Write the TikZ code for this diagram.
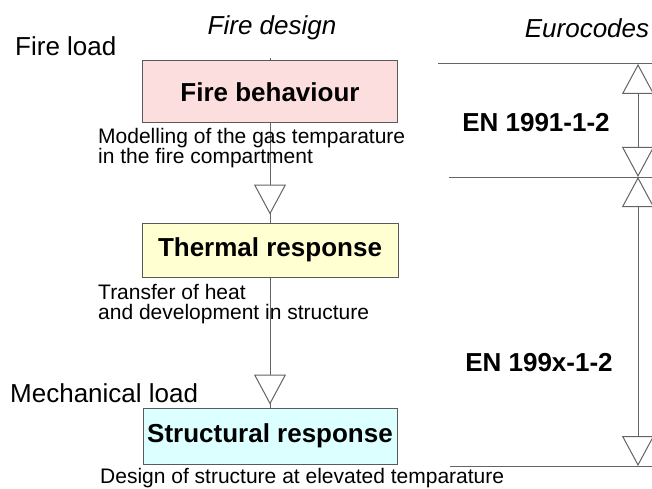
\documentclass[tikz,border=0pt]{standalone}
\usepackage{fontspec}
\setmainfont{Liberation Sans}
\usetikzlibrary{arrows.meta}
\definecolor{pinkfill}{RGB}{252,222,222}
\definecolor{yellowfill}{RGB}{255,255,210}
\definecolor{cyanfill}{RGB}{220,255,255}
\definecolor{linegray}{RGB}{100,100,100}
\definecolor{boxgray}{RGB}{90,90,90}
\tikzset{
  big/.style={font=\fontsize{26}{28}\selectfont},
  bigbold/.style={font=\fontsize{26}{28}\selectfont\bfseries},
  bigit/.style={font=\fontsize{26}{28}\selectfont\itshape},
  small/.style={font=\fontsize{21}{20}\selectfont, align=left, inner sep=0pt},
  box/.style={draw=boxgray, line width=1pt, inner sep=0pt, bigbold},
  conn/.style={draw=linegray, line width=1pt},
  tri/.tip={Triangle[length=30pt, width=32pt, fill=white]},
}
\begin{document}
\begin{tikzpicture}[x=1pt, y=-1pt]
\clip (0,0) rectangle (652,489);
\fill[white] (0,0) rectangle (652,489);
% coordinates
\coordinate (top) at (270,58);
\coordinate (h1l) at (438,64);
\coordinate (h1r) at (652,64);
\coordinate (h2l) at (449,177);
\coordinate (h2r) at (652,177);
\coordinate (h3l) at (450,466);
\coordinate (h3r) at (652,466);
\coordinate (v1) at (638,64);
\coordinate (v2) at (638,177);
\coordinate (v3) at (638,466);
% boxes (placed first for anchors, redrawn on top)
\path (270,92) node[box, fill=pinkfill, minimum width=255pt, minimum height=62pt] (b1) {};
\path (270,250) node[box, fill=yellowfill, minimum width=256pt, minimum height=54pt] (b2) {};
\path (270,436) node[box, fill=cyanfill, minimum width=254pt, minimum height=56pt] (b3) {};
% connectors
\draw[conn] (top) -- (b1.north);
\draw[conn] (b1.south) -- (b2.north);
\draw[conn, -tri, shorten >=8pt] (b1.south) -- (b2.north);
\draw[conn] (b2.south) -- (b3.north);
\draw[conn, -tri, shorten >=3pt] (b2.south) -- (b3.north);
% boxes on top
\node[box, fill=pinkfill, minimum width=255pt, minimum height=62pt] at (b1) {Fire behaviour};
\node[box, fill=yellowfill, minimum width=256pt, minimum height=54pt] at (b2) {Thermal response};
\node[box, fill=cyanfill, minimum width=254pt, minimum height=56pt] at (b3) {Structural response};
% right side
\draw[conn] (h1l) -- (h1r);
\draw[conn] (h2l) -- (h2r);
\draw[conn] (h3l) -- (h3r);
\draw[conn, tri-tri] (v1) -- (v2);
\draw[conn, tri-tri] (v2) -- (v3);
% texts
\node[bigit] (fd) at (272,28) {Fire design};
\node[bigit] (ec) at (587,28) {Eurocodes};
\node[big, anchor=west, inner sep=0pt] (fl) at (15,46) {Fire load};
\node[big, anchor=west, inner sep=0pt] (ml) at (10,393) {Mechanical load};
\node[bigbold] (en1) at (536,123) {EN 1991-1-2};
\node[bigbold] (en2) at (539,363) {EN 199x-1-2};
\node[small, anchor=west] (t1) at (98,148) {Modelling of the gas temparature\\in the fire compartment};
\node[small, anchor=west] (t2) at (98,304) {Transfer of heat\\and development in structure};
\node[small, anchor=west] (t3) at (100,478) {Design of structure at elevated temparature};
\end{tikzpicture}
\end{document}
